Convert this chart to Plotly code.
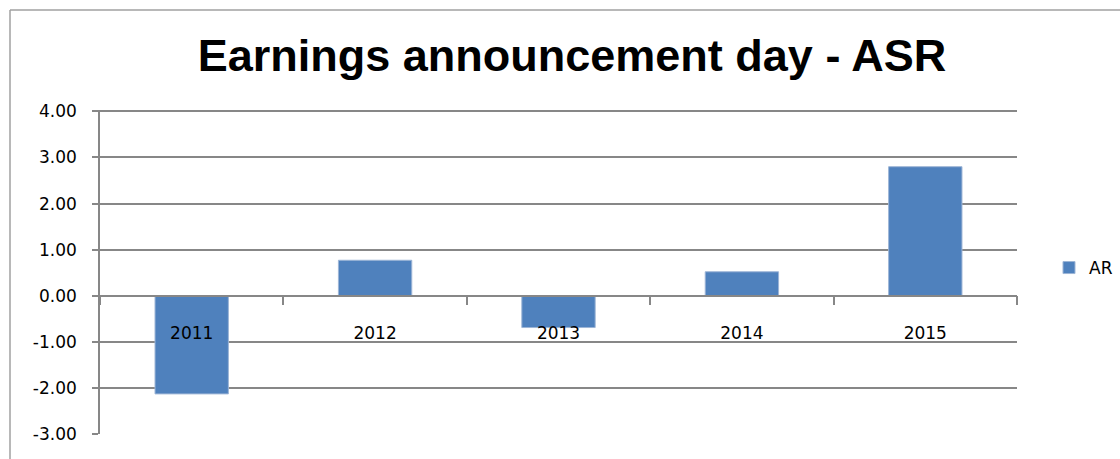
import plotly.graph_objects as go

years = ["2011", "2012", "2013", "2014", "2015"]
ar_values = [-2.13, 0.77, -0.69, 0.52, 2.80]
y_ticks = [-3, -2, -1, 0, 1, 2, 3, 4]
y_labels = ["%.2f" % v for v in y_ticks]

W, H = 1120, 459
L, R, T, B = 100, 1017, 110, 434
Y_MIN, Y_MAX = -3, 4.03

def px_x(px):
    return (px - L) / (R - L)

def px_y(py):
    return (B - py) / (B - T)

fig = go.Figure()
fig.add_trace(go.Bar(
    x=years, y=ar_values, name="AR",
    marker=dict(color="#4F81BD", line=dict(color="#9DB5D6", width=1)),
    width=0.4,
))

grid_col = "#878787"
fig.update_layout(
    width=W, height=H,
    margin=dict(l=L, r=W - R, t=T, b=H - B, autoexpand=False),
    paper_bgcolor="white", plot_bgcolor="white",
    title=dict(text="<b>Earnings announcement day - ASR</b>",
               font=dict(family="Liberation Sans", size=45, color="black"),
               x=572 / W, xref="container", xanchor="center",
               y=1 - 55 / H, yref="container", yanchor="middle"),
    showlegend=True,
    legend=dict(x=1049 / W, y=1 - 268 / H, xref="container", yref="container",
                xanchor="left", yanchor="middle",
                font=dict(family="DejaVu Sans", size=17, color="black"),
                itemwidth=30, bgcolor="rgba(0,0,0,0)"),
    xaxis=dict(anchor="free", position=(0 - Y_MIN) / (Y_MAX - Y_MIN),
               showline=True, linecolor=grid_col,
               linewidth=1.5, ticks="outside", tickson="boundaries", ticklen=9,
               tickcolor=grid_col, tickwidth=1.5, showgrid=False,
               tickfont=dict(family="DejaVu Sans", size=17, color="black"),
               ticklabelstandoff=22),
    yaxis=dict(range=[Y_MIN, Y_MAX], tickvals=y_ticks, ticktext=y_labels,
               showgrid=True, gridcolor=grid_col, gridwidth=1.5,
               zeroline=False, showline=True, linecolor=grid_col, linewidth=1.5,
               ticks="outside", ticklen=6, tickcolor=grid_col, tickwidth=1.5,
               tickfont=dict(family="DejaVu Sans", size=17, color="black"),
               ticklabelstandoff=12),
    shapes=[
        dict(type="line", xref="paper", yref="paper", x0=px_x(10), x1=px_x(1125),
             y0=px_y(10), y1=px_y(10), line=dict(color="#A0A0A0", width=1.5)),
        dict(type="line", xref="paper", yref="paper", x0=px_x(10), x1=px_x(10),
             y0=px_y(10), y1=px_y(465), line=dict(color="#A0A0A0", width=1.5)),
    ],
)

fig.write_html("out.html", config={"displayModeBar": False},
               post_script="document.body.style.margin='0px';document.body.style.overflow='hidden';")
